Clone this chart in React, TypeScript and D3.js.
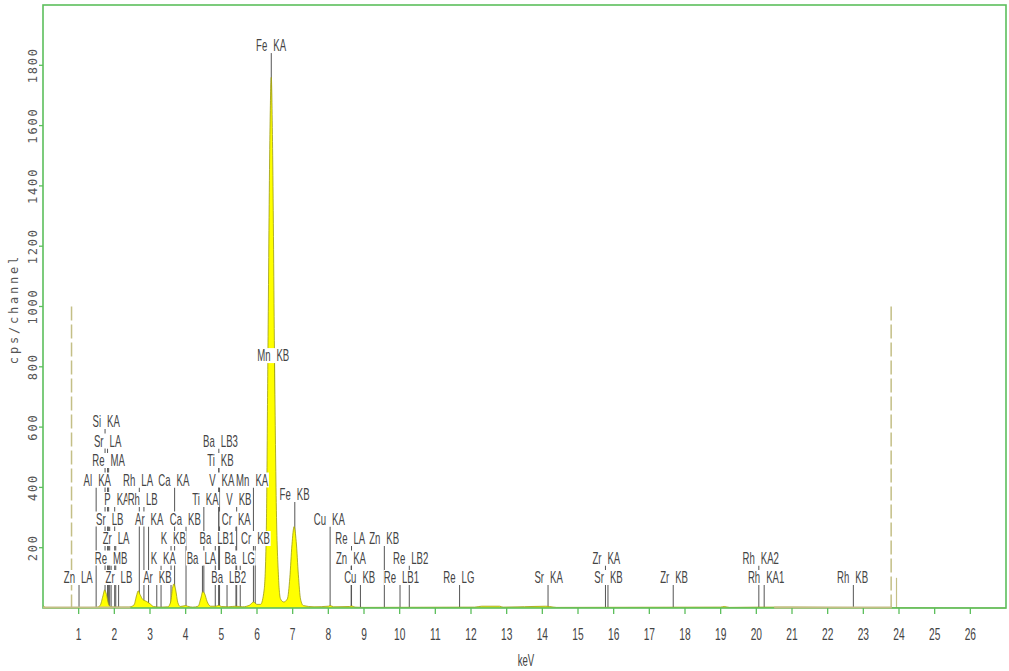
import React from "react";
import * as d3 from "d3";

// spectrum: [keV, cps]
const spectrum: [number, number][] = [
  [0.0, 8], [0.05, 3], [0.1, 1], [1.0, 1], [1.5, 2], [1.6, 8], [1.68, 40], [1.73, 60],
  [1.78, 45], [1.84, 12], [1.9, 4], [2.0, 3], [2.2, 3], [2.4, 3], [2.55, 10], [2.62, 40],
  [2.67, 57], [2.72, 45], [2.8, 28], [2.9, 22], [3.0, 14], [3.1, 5], [3.3, 3], [3.5, 4],
  [3.58, 20], [3.63, 65], [3.67, 80], [3.72, 60], [3.78, 18], [3.85, 5], [4.0, 8], [4.05, 6],
  [4.2, 3], [4.35, 6], [4.42, 30], [4.48, 54], [4.53, 48], [4.6, 22], [4.7, 6], [4.85, 6],
  [4.93, 9], [5.0, 5], [5.2, 4], [5.41, 6], [5.6, 4], [5.8, 10], [5.9, 20], [6.0, 12],
  [6.1, 12], [6.2, 60], [6.26, 250], [6.31, 900], [6.36, 1550], [6.4, 1760], [6.44, 1500],
  [6.49, 850], [6.54, 350], [6.6, 110], [6.66, 30], [6.75, 20], [6.85, 30], [6.92, 100],
  [6.98, 210], [7.04, 270], [7.1, 220], [7.16, 110], [7.22, 30], [7.3, 8], [7.6, 4],
  [8.0, 6], [8.05, 8], [8.15, 4], [8.6, 5], [8.65, 7], [8.75, 3], [9.0, 2], [12.1, 3],
  [12.3, 6], [12.8, 6], [12.9, 3], [14.1, 6], [14.2, 5], [14.4, 2], [19.0, 3], [19.1, 5],
  [19.25, 2], [20.1, 3], [21.0, 3], [22.0, 2], [23.8, 1], [27.0, 0],
];

// identified lines
const lineNames = [
  "Zn LA", "Al KA", "Si KA", "Sr LA", "Re MA", "Sr LB", "Re MB", "P KA", "Zr LA", "Zr LB",
  "Rh LA", "Rh LB", "Ar KA", "Ar KB", "K KA", "K KB", "Ca KA", "Ca KB", "Ba LA", "Ti KA",
  "Ba LB1", "Ti KB", "Ba LB3", "V KA", "Ba LB2", "Cr KA", "V KB", "Ba LG", "Mn KA", "Cr KB",
  "Fe KA", "Mn KB", "Fe KB", "Cu KA", "Zn KA", "Re LA", "Cu KB", "Zn KB", "Re LB1", "Re LB2",
  "Re LG", "Sr KA", "Zr KA", "Sr KB", "Zr KB", "Rh KA2", "Rh KA1", "Rh KB",
];
const lineEnergies = [
  1.01, 1.49, 1.74, 1.81, 1.84, 1.87, 1.91, 2.01, 2.04, 2.12,
  2.7, 2.83, 2.96, 3.19, 3.31, 3.59, 3.69, 4.01, 4.47, 4.51,
  4.83, 4.93, 4.93, 4.95, 5.16, 5.41, 5.43, 5.53, 5.9, 5.95,
  6.4, 6.49, 7.06, 8.05, 8.64, 8.65, 8.9, 9.57, 10.01, 10.27,
  11.68, 14.16, 15.77, 15.84, 17.67, 20.07, 20.22, 22.72,
];

const roiMarkers = [0.8, 23.78];
const roiMarkerHeight = 1000;
const cursorEnergy = 23.93;
const cursorHeight = 100;
const roiRanges: [number, number][] = [[0, 2.45], [20.5, 23.8]];

const xTicks = d3.range(1, 27);
const yTicks = [200, 400, 600, 800, 1000, 1200, 1400, 1600, 1800];

// label stacking levels (layout)
const levelOf: Record<string, number> = {
  "Zn LA": 0, "Zr LB": 0, "Ar KB": 0, "Ba LB2": 0, "Cu KB": 0, "Re LB1": 0, "Re LG": 0,
  "Sr KA": 0, "Sr KB": 0, "Zr KB": 0, "Rh KA1": 0, "Rh KB": 0,
  "Re MB": 1, "K KA": 1, "Ba LA": 1, "Ba LG": 1, "Zn KA": 1, "Re LB2": 1, "Zr KA": 1, "Rh KA2": 1,
  "Zr LA": 2, "K KB": 2, "Ba LB1": 2, "Cr KB": 2, "Re LA": 2, "Zn KB": 2,
  "Sr LB": 3, "Ar KA": 3, "Ca KB": 3, "Cr KA": 3, "Cu KA": 3,
  "P KA": 4, "Rh LB": 4, "Ti KA": 4, "V KB": 4,
  "Al KA": 5, "Rh LA": 5, "Ca KA": 5, "V KA": 5, "Mn KA": 5,
  "Re MA": 6, "Ti KB": 6, "Sr LA": 7, "Ba LB3": 7, "Si KA": 8,
  "Fe KB": 4.26, "Mn KB": 11.38, "Fe KA": 27.28,
};

const W = 1009;
const H = 671;
const left = 43, right = 1006, top = 5, bottom = 608;

const green = "#5cbf5c";
const khaki = "#c4bf86";
const labelFont = "'Liberation Sans', Arial, sans-serif";
const monoFont = "'DejaVu Sans Mono', monospace";
const SX = 0.6;

function textWidth(s: string) {
  let w = 0;
  for (const c of s) {
    if (/[A-Z]/.test(c)) w += 0.65;
    else if (/[0-9]/.test(c)) w += 0.556;
    else if (c === "i" || c === "l") w += 0.23;
    else w += 0.55;
  }
  return w * 16 * SX;
}

function PeakLabel({ name, x, y }: { name: string; x: number; y: number }) {
  const [el, ln] = name.split(" ");
  const ew = textWidth(el);
  const lw = textWidth(ln);
  return (
    <g transform={`translate(${x},${y})`}>
      <rect x={-4 - ew - 1} y={-7} width={ew + lw + 8} height={15} fill="#fff" />
      <g transform={`scale(${SX},1)`} fontFamily={labelFont} fontSize={16} fill="#444">
        <text x={-4 / SX} y={6} textAnchor="end">{el}</text>
        <text x={2 / SX} y={6}>{ln}</text>
      </g>
    </g>
  );
}

export default function App() {
  const x = d3.scaleLinear().domain([0, 27]).range([left, right]);
  const y = d3.scaleLinear().domain([0, 2000]).range([bottom, top]);
  const rowY = (lv: number) => 577 - lv * 19.5;

  const area = d3
    .area<[number, number]>()
    .x((d) => x(d[0]))
    .y0(y(0))
    .y1((d) => y(d[1]))
    .curve(d3.curveMonotoneX);
  const line = d3
    .line<[number, number]>()
    .x((d) => x(d[0]))
    .y((d) => y(d[1]))
    .curve(d3.curveMonotoneX);

  const labels = lineNames.map((n, i) => ({ name: n, e: lineEnergies[i], ly: rowY(levelOf[n] ?? 0) }));

  return (
    <svg width={W} height={H} style={{ position: "absolute", left: 0, top: 0, background: "#fff" }}>
      {/* marker lines, behind the spectrum */}
      {labels.map((d) => (
        <line key={"l" + d.name} x1={x(d.e)} x2={x(d.e)} y1={d.ly + 8} y2={y(0)} stroke="#555" strokeWidth={1} />
      ))}

      {/* ROI markers */}
      {roiMarkers.map((e) => (
        <line key={"r" + e} x1={x(e)} x2={x(e)} y1={y(roiMarkerHeight)} y2={y(0)}
          stroke={khaki} strokeWidth={1.5} strokeDasharray="14,4" />
      ))}
      <line x1={x(cursorEnergy)} x2={x(cursorEnergy)} y1={y(cursorHeight)} y2={y(0)} stroke={khaki} strokeWidth={1.2} />

      {/* spectrum */}
      <path d={area(spectrum) ?? ""} fill="#ffff00" />
      <path d={line(spectrum) ?? ""} fill="none" stroke="#9a9a10" strokeWidth={0.8} />

      {/* frame and axes */}
      <rect x={left} y={top} width={right - left} height={bottom - top} fill="none" stroke={green} strokeWidth={1.6} />
      {roiRanges.map(([a, b]) => (
        <line key={"k" + a} x1={x(a)} x2={x(b)} y1={bottom - 0.5} y2={bottom - 0.5} stroke={khaki} strokeWidth={2} />
      ))}
      {xTicks.map((t) => (
        <g key={"xt" + t}>
          <line x1={x(t)} x2={x(t)} y1={bottom} y2={bottom + 6} stroke={green} strokeWidth={1.3} />
          <text transform={`translate(${x(t)},640) scale(${SX},1)`} textAnchor="middle"
            fontFamily={labelFont} fontSize={17} fill="#444">{t}</text>
        </g>
      ))}
      {yTicks.map((t) => (
        <g key={"yt" + t}>
          <line x1={left - 4} x2={left} y1={y(t)} y2={y(t)} stroke={green} strokeWidth={1.3} />
          <text transform={`translate(37,${y(t)}) rotate(-90)`} textAnchor="middle"
            fontFamily={monoFont} fontSize={12} letterSpacing={1.8} fill="#555">{t}</text>
        </g>
      ))}
      <text transform="translate(18,309) rotate(-90)" textAnchor="middle" fontFamily={monoFont}
        fontSize={12} letterSpacing={2.8} fill="#555">cps/channel</text>
      <text transform={`translate(526,666) scale(${SX},1)`} textAnchor="middle" fontFamily={labelFont}
        fontSize={16} fill="#444">keV</text>

      {/* labels */}
      {labels.map((d) => (
        <PeakLabel key={"t" + d.name} name={d.name} x={x(d.e)} y={d.ly} />
      ))}
    </svg>
  );
}
